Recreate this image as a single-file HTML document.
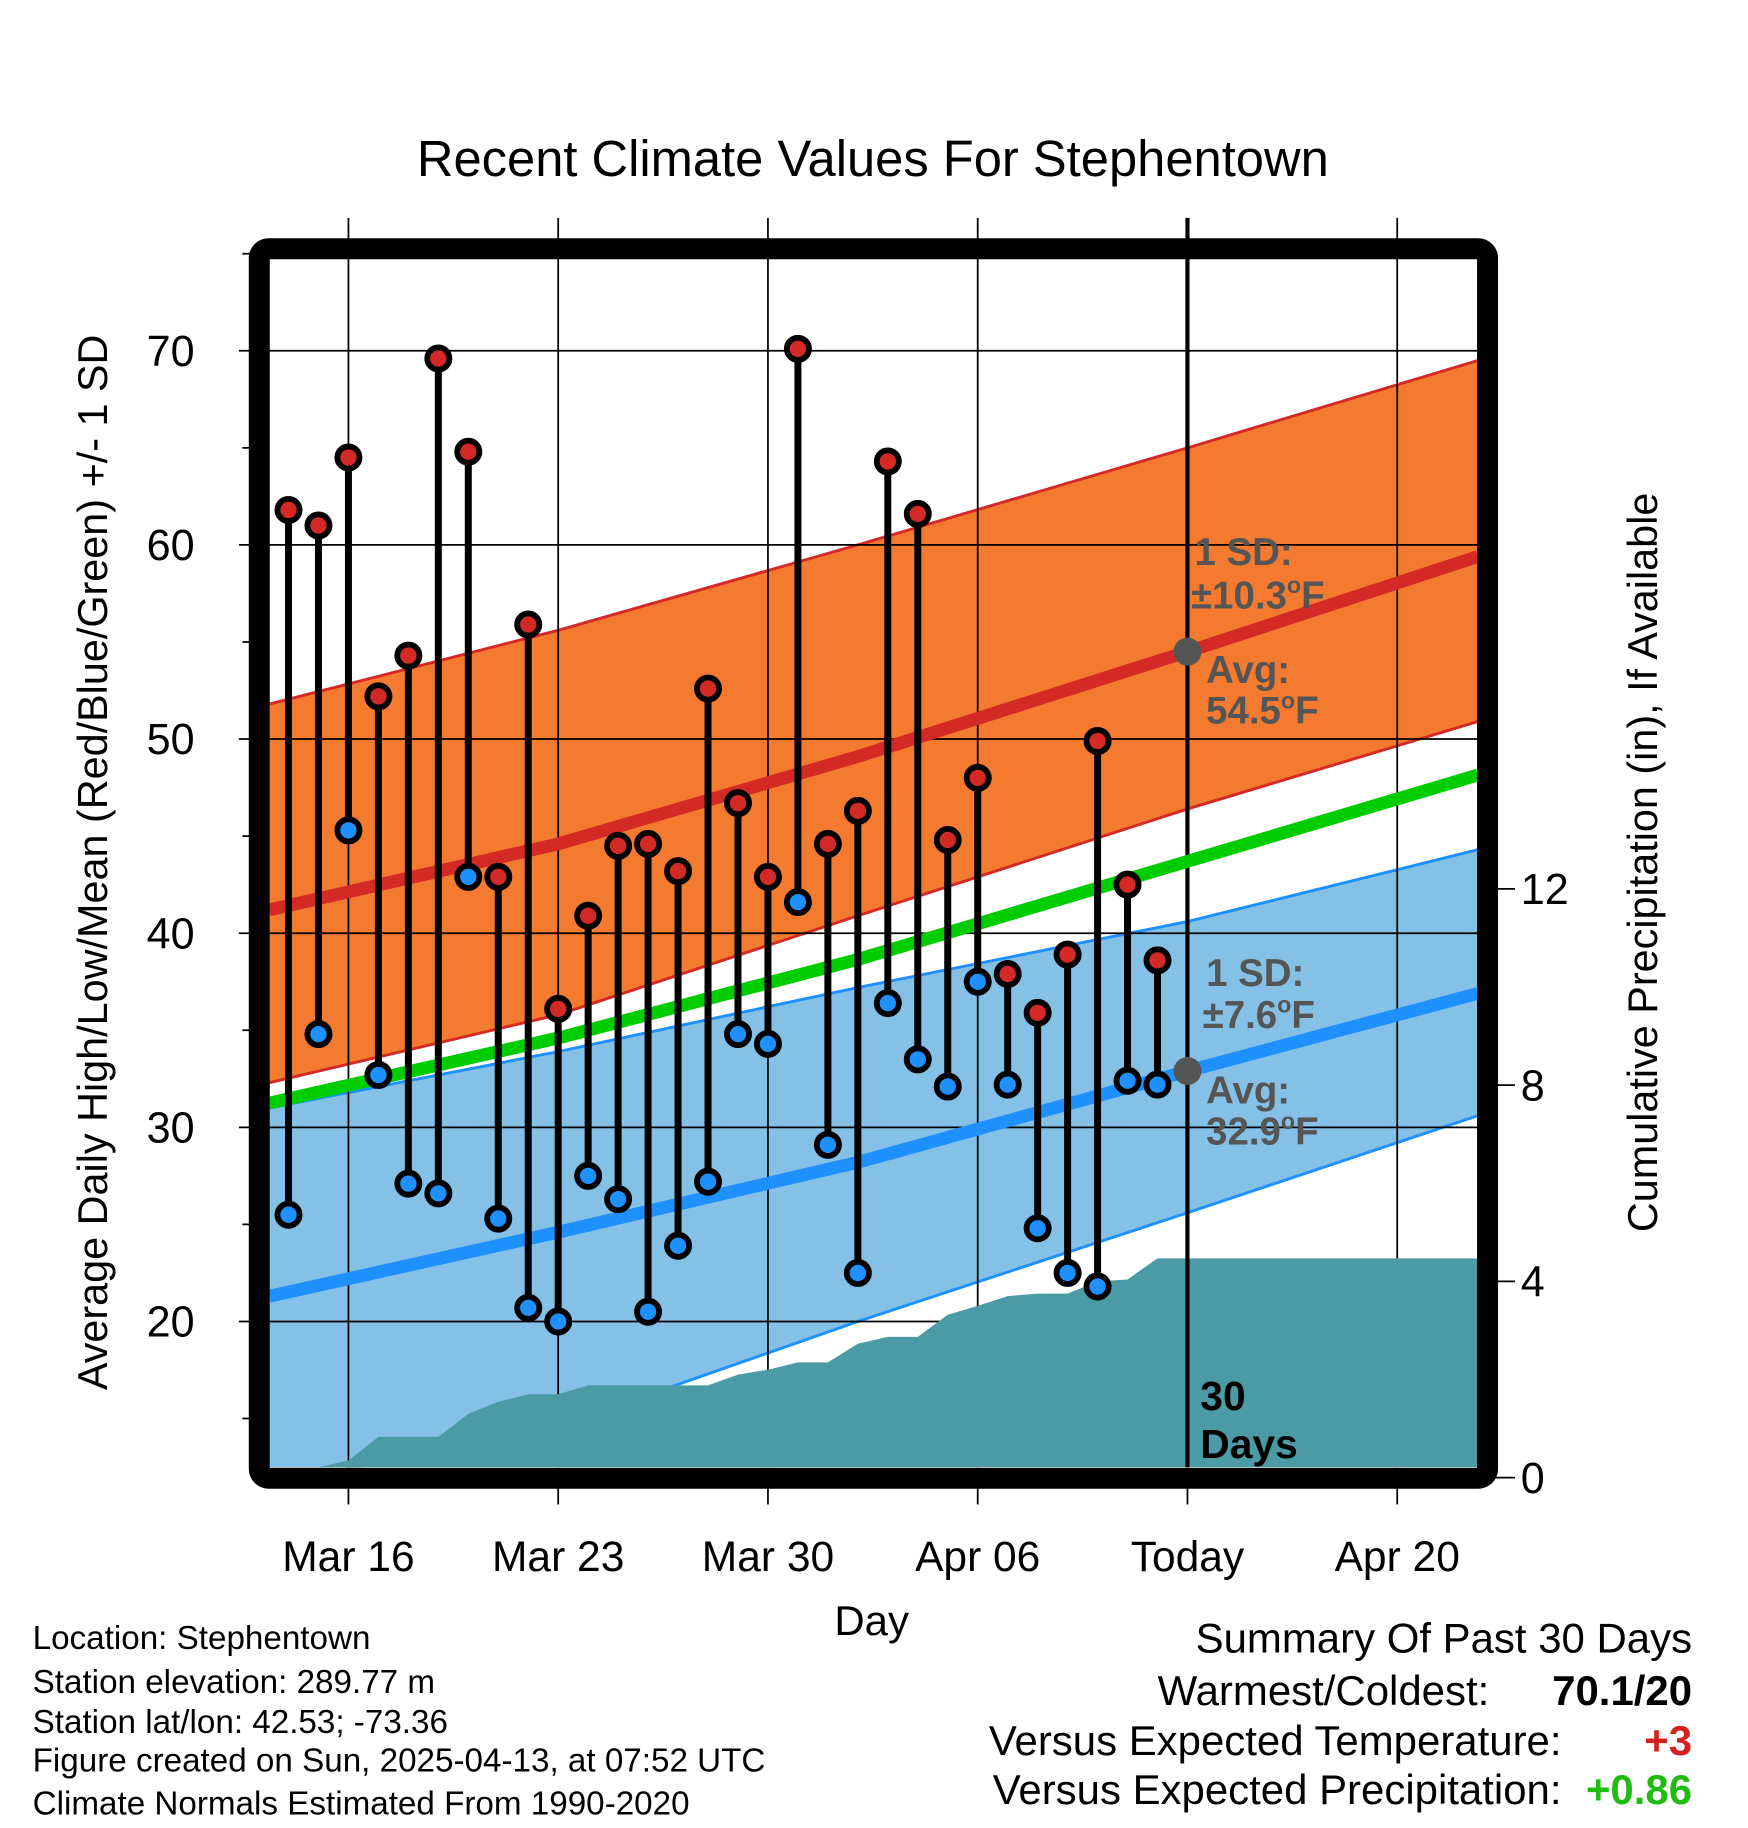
<!DOCTYPE html>
<html><head><meta charset="utf-8"><style>
html,body{margin:0;padding:0;background:#fff}
svg{display:block}
text{font-family:"Liberation Sans",Arial,sans-serif}
</style></head><body>
<svg id="chart" width="1748" height="1828" viewBox="0 0 1500 1568.65" xmlns="http://www.w3.org/2000/svg">
<g id="bands"></g>
<g id="grid"></g>
<g id="precip"></g>
<g id="lines"></g>
<g id="stems"></g>
<rect x="222.5" y="213.5" width="1054" height="1055" rx="8" fill="none" stroke="#000" stroke-width="18"/>
<text x="749" y="151" font-size="43.5" text-anchor="middle">Recent Climate Values For Stephentown</text>
<text transform="translate(92,740) rotate(-90)" font-size="35.5" text-anchor="middle">Average Daily High/Low/Mean (Red/Blue/Green) +/- 1 SD</text>
<text transform="translate(1422,740) rotate(-90)" font-size="35.5" text-anchor="middle">Cumulative Precipitation (in), If Available</text>
<text x="748" y="1403" font-size="36" text-anchor="middle">Day</text>
<g id="ticks"></g>
<g font-size="33" font-weight="bold" fill="#555">
<text x="1025" y="485">1 SD:</text><text x="1022" y="522">±10.3<tspan font-size="20" dy="-13">o</tspan><tspan dy="13">F</tspan></text>
<text x="1035" y="586">Avg:</text><text x="1035" y="621">54.5<tspan font-size="20" dy="-13">o</tspan><tspan dy="13">F</tspan></text>
<text x="1035" y="846">1 SD:</text><text x="1032" y="882">±7.6<tspan font-size="20" dy="-13">o</tspan><tspan dy="13">F</tspan></text>
<text x="1035" y="947">Avg:</text><text x="1035" y="982">32.9<tspan font-size="20" dy="-13">o</tspan><tspan dy="13">F</tspan></text>
</g>
<g font-size="35" font-weight="bold" fill="#000">
<text x="1030" y="1210">30</text><text x="1030" y="1251">Days</text></g>
<g font-size="28.5">
<text x="28" y="1415">Location: Stephentown</text>
<text x="28" y="1453">Station elevation: 289.77 m</text>
<text x="28" y="1487">Station lat/lon: 42.53; -73.36</text>
<text x="28" y="1520">Figure created on Sun, 2025-04-13, at 07:52 UTC</text>
<text x="28" y="1557">Climate Normals Estimated From 1990-2020</text>
</g>
<g font-size="36">
<text x="1452" y="1418" text-anchor="end">Summary Of Past 30 Days</text>
<text x="1278" y="1463" text-anchor="end">Warmest/Coldest:</text>
<text x="1452" y="1463" text-anchor="end" font-weight="bold">70.1/20</text>
<text x="1340" y="1506" text-anchor="end">Versus Expected Temperature:</text>
<text x="1452" y="1506" text-anchor="end" font-weight="bold" fill="#d42020">+3</text>
<text x="1340" y="1548" text-anchor="end">Versus Expected Precipitation:</text>
<text x="1452" y="1548" text-anchor="end" font-weight="bold" fill="#22bb11">+0.86</text>
</g>
</svg>
<script>
const days = [-2,-1,0,1,2,3,4,5,6,7,8,9,10,11,12,13,14,15,16,17,18,19,20,21,22,23,24,25,26,27];
const highs = [61.8,61.0,64.5,52.2,54.3,69.6,64.8,42.9,55.9,36.1,40.9,44.5,44.6,43.2,52.6,46.7,42.9,70.1,44.6,46.3,64.3,61.6,44.8,48.0,37.9,35.9,38.9,49.9,42.5,38.6];
const lows = [25.5,34.8,45.3,32.7,27.1,26.6,42.9,25.3,20.7,20.0,27.5,26.3,20.5,23.9,27.2,34.8,34.3,41.6,29.1,22.5,36.4,33.5,32.1,37.5,32.2,24.8,22.5,21.8,32.4,32.2];
const precip = [0,0,0.35,0.83,0.83,0.83,1.3,1.55,1.7,1.7,1.88,1.88,1.88,1.88,1.88,2.1,2.2,2.35,2.35,2.73,2.87,2.87,3.32,3.5,3.7,3.75,3.75,4.0,4.04,4.47];
const normDays = [-2.64,7,17,28,37.69];
const normHigh = [41.2,44.6,49.1,54.5,59.4];
const normLow = [21.3,24.6,28.2,32.9,36.9];
const highUpper = [51.8,55.6,60.0,65.0,69.5];
const highLower = [32.3,35.8,40.9,46.4,50.9];
const lowUpper = [31.0,33.9,37.2,40.6,44.3];
const lowLower = [11.6,14.6,20.0,25.6,30.6];
const yTicks = [20,30,40,50,60,70];
const pTicks = [0,4,8,12];
const xTickDays = [0,7,14,21,28,35];
const xTickLabels = ["Mar 16","Mar 23","Mar 30","Apr 06","Today","Apr 20"];

const NS="http://www.w3.org/2000/svg";
const X0=231.5,X1=1268,Y0=223,Y1=1259;
const xs=d=>299+d*25.714;
const ys=v=>301+(70-v)*16.66;
const yp=p=>1268-p*42.1;
function mk(parent,tag,attrs){const e=document.createElementNS(NS,tag);for(const k in attrs)e.setAttribute(k,attrs[k]);document.getElementById(parent).appendChild(e);return e;}
const clip=mk('bands','clipPath',{id:'pc'});
const cr=document.createElementNS(NS,'rect');cr.setAttribute('x',X0);cr.setAttribute('y',Y0);cr.setAttribute('width',X1-X0);cr.setAttribute('height',Y1-Y0);clip.appendChild(cr);
function bandPath(up,lo){let a=[],b=[];for(let i=0;i<normDays.length;i++){a.push(xs(normDays[i])+','+ys(up[i]));b.unshift(xs(normDays[i])+','+ys(lo[i]));}return 'M'+a.join(' L')+' L'+b.join(' L')+'Z';}
function linePath(arr){return 'M'+normDays.map((d,i)=>xs(d)+','+ys(arr[i])).join(' L');}
let e;
e=mk('bands','path',{d:bandPath(lowUpper,lowLower),fill:'#85c1e6','clip-path':'url(#pc)'});

e=mk('bands','path',{d:bandPath(highUpper,highLower),fill:'#f47a30','clip-path':'url(#pc)'});

[[highUpper,'#d42a26'],[highLower,'#d42a26'],[lowUpper,'#1e90ff'],[lowLower,'#1e90ff']].forEach(([m,c])=>{
 e=mk('bands','path',{d:linePath(m),fill:'none',stroke:c,'stroke-width':2.5,'clip-path':'url(#pc)'});
 
});
yTicks.forEach(v=>{e=mk('grid','line',{x1:205,x2:X1,y1:ys(v),y2:ys(v),stroke:'#000','stroke-width':1.5});
 
 e=mk('ticks','text',{x:167,y:ys(v)+13,'font-size':37,'text-anchor':'end'});e.textContent=v;
 });
for(let v=15;v<=75;v+=10){e=mk('ticks','line',{x1:208,x2:222,y1:ys(v),y2:ys(v),stroke:'#000','stroke-width':1.5});
 }
xTickDays.forEach((d,i)=>{const today=xTickLabels[i]==='Today';
 e=mk('grid','line',{x1:xs(d),x2:xs(d),y1:187,y2:Y1,stroke:'#000','stroke-width':today?3.5:1.5});
 
 e=mk('ticks','line',{x1:xs(d),x2:xs(d),y1:1270,y2:1291,stroke:'#000','stroke-width':1.5});
 
 e=mk('ticks','text',{x:xs(d),y:1348,'font-size':36.5,'text-anchor':'middle'});e.textContent=xTickLabels[i];
 });
pTicks.forEach(p=>{e=mk('ticks','line',{x1:1276,x2:1300,y1:yp(p),y2:yp(p),stroke:'#000','stroke-width':1.5});
 
 e=mk('ticks','text',{x:1305,y:yp(p)+13,'font-size':37});e.textContent=p;
 });
let pts=[];
for(let i=0;i<days.length;i++){pts.push(xs(days[i])+','+Math.min(yp(precip[i]),Y1));}
const last=precip[precip.length-1];
let d='M'+xs(days[0])+','+Y1+' L'+pts.join(' L')+' L'+X1+','+yp(last)+' L'+X1+','+Y1+'Z';
e=mk('precip','path',{d:d,fill:'#4a9ba5','clip-path':'url(#pc)'});

e=mk('precip','line',{x1:xs(28),x2:xs(28),y1:Y0,y2:Y1,stroke:'#000','stroke-width':3.5});

const normMean=normHigh.map((h,i)=>(h+normLow[i])/2);
[[normLow,'#1e90ff','low-normal-line'],[normMean,'#00cc00','mean-normal-line'],[normHigh,'#d42a26','high-normal-line']].forEach(([m,c,n])=>{
 e=mk('lines','path',{d:linePath(m),fill:'none',stroke:c,'stroke-width':11,'clip-path':'url(#pc)'});
 });
const ti=normDays.indexOf(28);
[normHigh[ti],normLow[ti]].forEach(v=>{e=mk('lines','circle',{cx:xs(28),cy:ys(v),r:12,fill:'#555'});
 });
days.forEach((dd,i)=>{const x=xs(dd);
 e=mk('stems','line',{x1:x,x2:x,y1:ys(highs[i]),y2:ys(lows[i]),stroke:'#000','stroke-width':6});
 
 e=mk('stems','circle',{cx:x,cy:ys(highs[i]),r:9.5,fill:'#d42a26',stroke:'#000','stroke-width':5});
 
 e=mk('stems','circle',{cx:x,cy:ys(lows[i]),r:9.5,fill:'#1e90ff',stroke:'#000','stroke-width':5});
 });
</script>
</body></html>
